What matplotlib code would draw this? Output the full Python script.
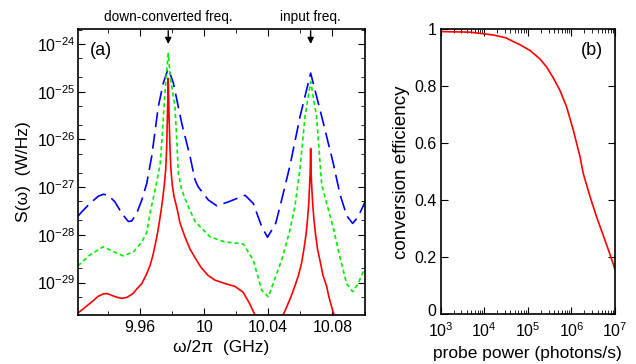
import numpy as np
import matplotlib
matplotlib.use("Agg")
import matplotlib.pyplot as plt
import matplotlib.transforms as mtransforms
from matplotlib.ticker import FixedLocator, LogLocator, NullFormatter

plt.rcParams['font.family'] = ['Liberation Sans', 'DejaVu Sans']
plt.rcParams['mathtext.fontset'] = 'custom'
plt.rcParams['mathtext.rm'] = 'Liberation Sans'
plt.rcParams['mathtext.it'] = 'Liberation Sans:italic'

# (a) spectra, frequency in GHz and log10 of S(w) in W/Hz
blue_f = [9.9213, 9.9236, 9.9288, 9.9340, 9.9371, 9.9402, 9.9444, 9.9486, 9.9527,
          9.9548, 9.9579, 9.9611, 9.9642, 9.9673, 9.9714, 9.9745, 9.9776, 9.9808,
          9.9860, 9.9912, 9.9943, 9.9962, 10.0026, 10.0078, 10.0150, 10.0255,
          10.0306, 10.0359, 10.0395, 10.0446, 10.0483, 10.0535, 10.0598, 10.0664,
          10.0733, 10.0805, 10.0847, 10.0889, 10.0926, 10.0961, 10.1003]
blue_s = [-27.61, -27.52, -27.34, -27.19, -27.15, -27.17, -27.31, -27.55, -27.72,
          -27.71, -27.55, -27.27, -26.92, -26.35, -25.31, -24.82, -24.51, -24.82,
          -25.66, -26.36, -26.85, -26.99, -27.27, -27.39, -27.31, -27.17,
          -27.34, -27.83, -28.05, -27.76, -27.27, -26.55, -25.52, -24.61,
          -25.52, -26.50, -27.15, -27.60, -27.76, -27.62, -27.31]

green_f = [9.9213, 9.9288, 9.9371, 9.9434, 9.9494, 9.9558, 9.9611, 9.9642, 9.9662,
           9.9694, 9.9725, 9.9737, 9.9750, 9.9762, 9.9776, 9.9789, 9.9818, 9.9829,
           9.9839, 9.9860, 9.9901, 9.9943, 10.0036, 10.0130, 10.0244, 10.0306,
           10.0359, 10.0400, 10.0483, 10.0535, 10.0566, 10.0598, 10.0629, 10.0664,
           10.0701, 10.0733, 10.0805, 10.0846, 10.0888, 10.0926, 10.0961, 10.1003]
green_s = [-28.65, -28.42, -28.25, -28.35, -28.44, -28.36, -28.15, -27.95, -27.55,
           -27.06, -26.53, -26.00, -25.30, -24.70, -24.20, -24.70, -25.31, -26.01,
           -26.71, -27.06, -27.41, -27.72, -28.04, -28.15, -28.19, -28.53,
           -29.16, -29.30, -28.53, -27.90, -27.40, -26.60, -25.52, -24.79,
           -25.52, -26.95, -27.85, -28.46, -29.02, -29.19, -29.02, -28.68]

red_f = [9.9213, 9.9257, 9.9301, 9.9338, 9.9369, 9.9394, 9.9425, 9.9457, 9.9488,
         9.9519, 9.9556, 9.9581, 9.9611, 9.9637, 9.9662, 9.9681, 9.9700, 9.9715,
         9.9731, 9.9743, 9.9753, 9.9760, 9.9766, 9.9771, 9.9776, 9.9781, 9.9787,
         9.9793, 9.9801, 9.9812, 9.9831, 9.9849, 9.9881, 9.9912, 9.9943, 9.9980,
         10.0024, 10.0068, 10.0130, 10.0192, 10.0242, 10.0280, 10.0317, 10.0400,
         10.0492, 10.0516, 10.0541, 10.0566, 10.0588, 10.0607, 10.0622, 10.0635,
         10.0644, 10.0652, 10.0657, 10.0661, 10.0664, 10.0667, 10.0671, 10.0677,
         10.0685, 10.0695, 10.0707, 10.0723, 10.0741, 10.0763, 10.0778, 10.0794,
         10.0810, 10.0822]
red_s = [-29.64, -29.52, -29.40, -29.29, -29.24, -29.23, -29.27, -29.31, -29.33,
         -29.31, -29.23, -29.13, -29.02, -28.85, -28.65, -28.42, -28.12, -27.85,
         -27.50, -27.20, -26.90, -26.64, -26.20, -25.50, -24.72, -25.50, -26.20,
         -26.64, -26.95, -27.20, -27.45, -27.75, -28.05, -28.30, -28.48, -28.68,
         -28.85, -28.95, -29.02, -29.08, -29.20, -29.42, -29.68, -30.60,
         -29.68, -29.50, -29.30, -29.07, -28.85, -28.60, -28.30, -28.00,
         -27.70, -27.35, -27.00, -26.70, -26.19, -26.70, -27.00, -27.35,
         -27.70, -28.00, -28.30, -28.55, -28.85, -29.07, -29.30, -29.50,
         -29.68, -29.90]

# (b) conversion efficiency vs log10 probe power (photons/s)
power_log = [3.0, 3.67, 4.21, 4.5, 4.665, 4.819, 5.048, 5.278, 5.431, 5.583,
             5.736, 5.890, 6.041, 6.195, 6.271, 6.424, 6.578, 6.729, 6.883, 7.0]
efficiency = [0.992, 0.990, 0.980, 0.970, 0.957, 0.946, 0.926, 0.896, 0.868, 0.830,
              0.786, 0.728, 0.648, 0.555, 0.495, 0.415, 0.342, 0.278, 0.212, 0.158]

fig = plt.figure(figsize=(6.36, 3.64), dpi=100)
ax1 = fig.add_axes([0.1226, 0.1346, 0.4513, 0.7857])
ax2 = fig.add_axes([0.6929, 0.1365, 0.2740, 0.7830])

ax1.plot(blue_f, 10 ** np.array(blue_s), color='#0000ff', lw=1.2, dashes=(9, 4))
ax1.plot(green_f, 10 ** np.array(green_s), color='#00f000', lw=1.2, dashes=(2.5, 1.8))
ax1.plot(red_f, 10 ** np.array(red_s), color='#ff0000', lw=1.2)
ax1.set_yscale('log')
ax1.set_xlim(9.9213, 10.1003)
ax1.set_ylim(10 ** -29.68, 10 ** -23.686)
ax1.xaxis.set_major_locator(FixedLocator([9.96, 10.0, 10.04, 10.08]))
ax1.xaxis.set_minor_locator(FixedLocator([9.94, 9.98, 10.02, 10.06, 10.10]))
ax1.set_xticklabels(['9.96', '10', '10.04', '10.08'])
ax1.yaxis.set_major_locator(FixedLocator([1e-29, 1e-28, 1e-27, 1e-26, 1e-25, 1e-24]))
ax1.set_yticklabels([r'$10^{%d}$' % e for e in range(-29, -23)])
ax1.yaxis.set_minor_locator(LogLocator(base=10, subs=[2, 5]))
ax1.yaxis.set_minor_formatter(NullFormatter())
ax1.set_ylabel('S(ω)  (W/Hz)', fontsize=12.5)
ax1.set_xlabel('ω/2π  (GHz)', fontsize=12.5)
ax1.text(0.042, 0.925, '(a)', transform=ax1.transAxes, fontsize=13, va='center')

for f0, lab in [(9.9776, 'down-converted freq.'), (10.0664, 'input freq.')]:
    ax1.annotate(lab, xy=(f0, 1e-24), xytext=(f0, 10 ** -23.43),
                 ha='center', va='center', fontsize=9.8, annotation_clip=False,
                 arrowprops=dict(arrowstyle='-|>', color='black', lw=1,
                                 shrinkA=3, shrinkB=0, mutation_scale=9))

ax2.plot(10 ** np.array(power_log), efficiency, color='#ff0000', lw=1.2)
ax2.set_xscale('log')
ax2.set_xlim(1e3, 1e7)
ax2.set_ylim(0, 1)
ax2.xaxis.set_major_locator(LogLocator(base=10, numticks=10))
ax2.xaxis.set_minor_locator(LogLocator(base=10, subs=np.arange(2, 10), numticks=10))
ax2.xaxis.set_minor_formatter(NullFormatter())
ax2.yaxis.set_major_locator(FixedLocator([0, 0.2, 0.4, 0.6, 0.8, 1.0]))
ax2.set_yticklabels(['0', '0.2', '0.4', '0.6', '0.8', '1'])
ax2.set_ylabel('conversion efficiency', fontsize=13.5, labelpad=3)
ax2.set_xlabel('probe power (photons/s)', fontsize=12.5)
ax2.text(0.866, 0.925, '(b)', transform=ax2.transAxes, fontsize=13, va='center', ha='center')

for ax in (ax1, ax2):
    ax.tick_params(which='both', direction='in', top=True, right=True, labelsize=11.5)
    ax.tick_params(which='major', length=5, width=0.8)
    ax.tick_params(which='minor', length=3, width=0.6)
    for s in ax.spines.values():
        s.set_linewidth(1.2)
ax1.tick_params(axis='y', which='major', pad=2)
ax2.tick_params(axis='y', which='major', pad=3)
ax2.tick_params(axis='x', which='major', pad=5)

# nudge the "0" label up a little so it clears the 10^3 label below it
zero_lab = ax2.get_yticklabels()[0]
zero_lab.set_transform(zero_lab.get_transform() +
                       mtransforms.ScaledTranslation(0, 3 / 72, fig.dpi_scale_trans))

fig.savefig('out.png', dpi=100)
